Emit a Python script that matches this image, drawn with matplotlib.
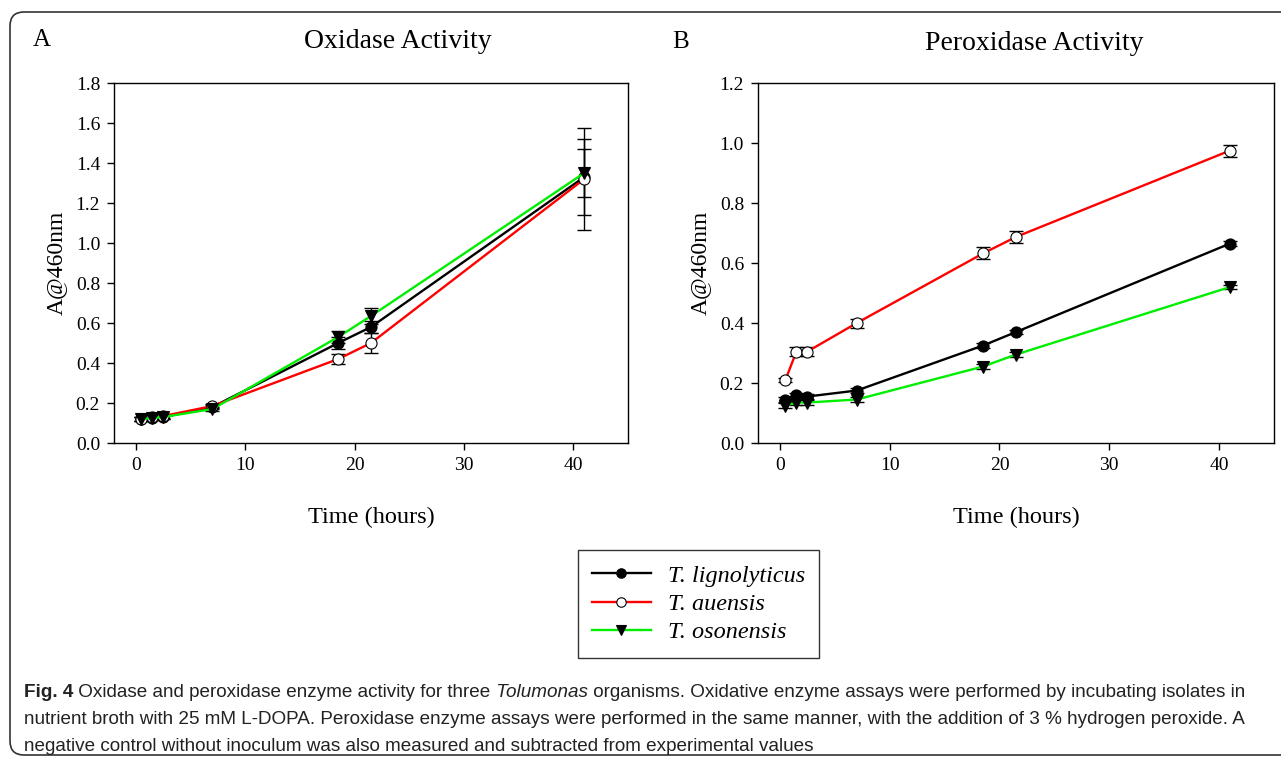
import matplotlib
matplotlib.use("Agg")
import matplotlib.pyplot as plt
from matplotlib.patches import FancyBboxPatch
from matplotlib.transforms import IdentityTransform

# data
hours = [0.5, 1.5, 2.5, 7, 18.5, 21.5, 41]
species = ["T. lignolyticus", "T. auensis", "T. osonensis"]

ox_lig = [0.12, 0.125, 0.13, 0.18, 0.50, 0.58, 1.33]
ox_aue = [0.12, 0.13, 0.135, 0.185, 0.42, 0.50, 1.32]
ox_oso = [0.12, 0.125, 0.13, 0.17, 0.53, 0.635, 1.35]
ox_lig_err = [0.01, 0.01, 0.01, 0.01, 0.03, 0.03, 0.19]
ox_aue_err = [0.01, 0.01, 0.01, 0.01, 0.025, 0.05, 0.255]
ox_oso_err = [0.01, 0.01, 0.01, 0.01, 0.03, 0.04, 0.12]

per_lig = [0.145, 0.16, 0.155, 0.175, 0.325, 0.37, 0.665]
per_aue = [0.21, 0.305, 0.305, 0.40, 0.632, 0.687, 0.975]
per_oso = [0.125, 0.135, 0.135, 0.145, 0.255, 0.295, 0.52]
per_lig_err = [0.008, 0.008, 0.008, 0.008, 0.008, 0.008, 0.008]
per_aue_err = [0.008, 0.015, 0.015, 0.015, 0.02, 0.02, 0.02]
per_oso_err = [0.008, 0.008, 0.008, 0.008, 0.008, 0.008, 0.008]

colors = ["black", "#ff0000", "#00ee00"]
markers = ["o", "o", "v"]
faces = ["black", "white", "black"]

serif = "Liberation Serif"
plt.rcParams["font.family"] = [serif, "DejaVu Serif"]

fig = plt.figure(figsize=(12.81, 7.59), dpi=100)
px = IdentityTransform()


def panel(rect, series, errs, ymax, yticks, title, title_x, tag, tag_xy):
    ax = fig.add_axes(rect)
    lines = []
    for ys, es, c, m, f in zip(series, errs, colors, markers, faces):
        ax.errorbar(hours, ys, yerr=es, fmt="none", ecolor="black",
                    elinewidth=1, capsize=5, capthick=1, zorder=2)
        ln, = ax.plot(hours, ys, color=c, lw=1.7, marker=m, ms=8,
                      mfc=f, mec="black", mew=0.8, zorder=3)
        lines.append(ln)
    ax.set_xlim(-2, 45)
    ax.set_ylim(0, ymax)
    ax.set_xticks([0, 10, 20, 30, 40])
    ax.set_yticks(yticks)
    ax.yaxis.set_major_formatter(plt.FormatStrFormatter("%.1f"))
    ax.tick_params(direction="out", length=5, width=1, labelsize=14, pad=5)
    for s in ax.spines.values():
        s.set_linewidth(1)
    ax.set_xlabel("Time (hours)", fontsize=17.5, labelpad=24)
    ax.set_ylabel("A@460nm", fontsize=17, labelpad=6)
    fig.text(title_x, tag_xy[1] - 1, title, fontsize=20, ha="center", va="center", transform=px)
    fig.text(tag_xy[0], tag_xy[1], tag, fontsize=18, ha="left", va="center", transform=px)
    return lines


lines1 = panel([0.089, 0.4163, 0.4012, 0.4743],
               [ox_lig, ox_aue, ox_oso], [ox_lig_err, ox_aue_err, ox_oso_err],
               1.8, [0, 0.2, 0.4, 0.6, 0.8, 1.0, 1.2, 1.4, 1.6, 1.8],
               "Oxidase Activity", 398, "A", (33, 759 - 40))
lines2 = panel([0.5917, 0.4163, 0.4028, 0.4743],
               [per_lig, per_aue, per_oso], [per_lig_err, per_aue_err, per_oso_err],
               1.2, [0, 0.2, 0.4, 0.6, 0.8, 1.0, 1.2],
               "Peroxidase Activity", 1034, "B", (672, 759 - 42))

leg = fig.legend(lines1, species, loc="center", bbox_to_anchor=(698.5 / 1281, 1 - 604 / 759),
                 frameon=True, fancybox=False, edgecolor="black",
                 prop={"family": serif, "style": "italic", "size": 17.5},
                 handlelength=2.4, borderpad=0.6, labelspacing=0.25, handletextpad=0.7,
                 markerscale=0.85)
leg.get_frame().set_linewidth(1)

# rounded figure-caption frame
box = FancyBboxPatch((10, 4), 1300, 743, boxstyle="round,pad=0,rounding_size=14",
                     transform=px, fill=False, lw=1.2, ec="#333333")
fig.patches.append(box)

cap_font = ["Liberation Sans", "DejaVu Sans"]
renderer = fig.canvas.get_renderer()

cap_lines = [
    [("Fig. 4", {"weight": "bold"}),
     (" Oxidase and peroxidase enzyme activity for three", {}),
     (" Tolumonas", {"style": "italic"}),
     (" organisms. Oxidative enzyme assays were performed by incubating isolates in", {})],
    [("nutrient broth with 25 mM L-DOPA. Peroxidase enzyme assays were performed in the same manner, "
      "with the addition of 3 % hydrogen peroxide. A", {})],
    [("negative control without inoculum was also measured and subtracted from experimental values", {})],
]


def runs(x, y, parts, size, draw=True):
    x0 = x
    for s, kw in parts:
        t = fig.text(x, y, s, transform=px, fontsize=size, family=cap_font,
                     va="baseline", color="#222222", **kw)
        x += t.get_window_extent(renderer).width
        if not draw:
            t.remove()
    return x - x0


# size the caption so the widest line fits inside the frame
w = max(runs(24, 0, parts, 13, draw=False) for parts in cap_lines)
cap_size = 13 * 1225 / w
for i, parts in enumerate(cap_lines):
    runs(24, 759 - 697 - 27 * i, parts, cap_size)

fig.savefig("out.png", dpi=100)
